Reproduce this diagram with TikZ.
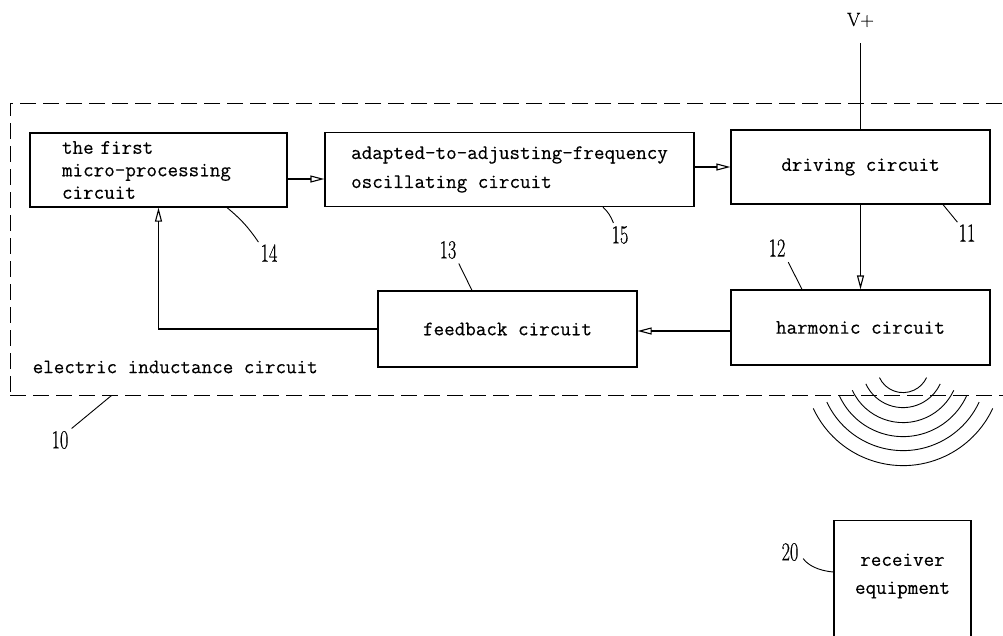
\documentclass[tikz,border=0pt]{standalone}
\usepackage{fontspec}
\usepackage{tikz}
\usetikzlibrary{positioning,arrows.meta}

\newfontfamily\reftt{Latin Modern Mono}[FakeBold=0.35]
\newfontfamily\refrm{Latin Modern Roman}[FakeBold=0.5]
\newcommand{\boxfont}{\fontsize{20.5}{28}\selectfont\reftt}
\newcommand{\refnum}[1]{\scalebox{0.7}[1]{\fontsize{26}{26}\selectfont\refrm #1}}

\tikzset{
    blk/.style={draw, line width=1.2pt, minimum width=259pt, minimum height=74pt, inner sep=0pt, font=\boxfont, align=center},
    induct/.style={draw, line width=1pt, dash pattern=on 16pt off 7pt},
    flow/.style={line width=1.1pt, -{Triangle[open, length=14pt, width=7pt]}},
    wire/.style={line width=1.1pt},
    lead/.style={line width=0.9pt},
    refno/.style={inner sep=0pt}
}

\begin{document}
\begin{tikzpicture}[x=1pt, y=1pt]
    \useasboundingbox (0,0) rectangle (1003,-635);

    % electric inductance circuit (open to the right)
    \node [induct, minimum width=1040pt, minimum height=292pt] (ind) at (530,-249) {};
    \node [inner sep=0pt, font=\boxfont, above right=22pt and 23pt of ind.south west] (indlabel) {electric inductance circuit};

    % blocks
    \node [blk, minimum width=257pt, align=left, text width=193pt, inner xsep=32pt, font=\fontsize{20.5}{22.5}\selectfont\reftt] (micro) at (158.5,-170) {the first\\micro-processing\\circuit};
    \node [blk, minimum width=369pt, align=left, font=\fontsize{20.5}{29}\selectfont\reftt] (osc) at (509.5,-169.5) {adapted-to-adjusting-frequency\\oscillating circuit};
    \node [blk] (drive) at (860.5,-167) {driving circuit};
    \node [blk, minimum height=75pt] (harm) at (860.5,-327.5) {harmonic circuit};
    \node [blk, minimum height=76pt] (feed) at (507.5,-329) {feedback circuit};

    \node [draw, line width=1.2pt, minimum width=137pt, minimum height=160pt, anchor=north] (recv) at (902.5,-520) {};
    \node [font=\boxfont, align=center, inner sep=0pt] (recvtext) at (902.5,-576) {receiver\\equipment};

    % supply
    \node [inner sep=0pt, font=\fontsize{19}{19}\selectfont\refrm] (vplus) at (860.5,-20) {V+};
    \draw [wire] ([yshift=-16pt]vplus.south) -- (drive.north);

    % signal path
    \draw [flow] ([yshift=-9pt]micro.east) -- ([yshift=-9.5pt]osc.west);
    \draw [flow] (osc.east |- drive.west) -- (drive.west);
    \draw [flow] (drive.south) -- (harm.north);
    \draw [flow] (harm.west |- 0,-331) -- (feed.east |- 0,-331);
    \draw [flow] (feed.west) -| (micro.south);

    % radiated field
    \coordinate (wavec) at ([xshift=42.5pt, yshift=-1pt]harm.south);
    \foreach \r in {26,41,56,70,84,99}
        \draw [lead] (wavec) ++(205:\r) arc [start angle=205, end angle=335, radius=\r];

    % reference numbers
    \node [refno] (n10) at (60,-440) {\refnum{10}};
    \node [refno] (n11) at (967,-233) {\refnum{11}};
    \node [refno] (n12) at (777,-248) {\refnum{12}};
    \node [refno] (n13) at (448,-250) {\refnum{13}};
    \node [refno] (n14) at (269,-253) {\refnum{14}};
    \node [refno] (n15) at (620,-235) {\refnum{15}};
    \node [refno] (n20) at (790,-552) {\refnum{20}};

    \draw [lead] ([xshift=68.5pt]micro.south) to [bend left=8] ([xshift=-2pt, yshift=2pt]n14.north west);
    \draw [lead] ([xshift=93.5pt]osc.south) to [bend left=12] ([xshift=2pt, yshift=3pt]n15.north west);
    \draw [lead, shorten <=5pt] (n13.south east) -- ([xshift=-35.5pt]feed.north);
    \draw [lead, shorten <=6pt] (n12.south east) -- ([xshift=-58.5pt]harm.north);
    \draw [lead] ([xshift=82.5pt]drive.south) -- ([xshift=-1pt, yshift=2pt]n11.north west);
    \draw [lead, shorten <=4pt] (n10.north east) -- ([xshift=102pt]ind.south west);
    \draw [lead, shorten <=8pt] (n20.east) to [bend right=25] ([yshift=-52pt]recv.north west);
\end{tikzpicture}
\end{document}
